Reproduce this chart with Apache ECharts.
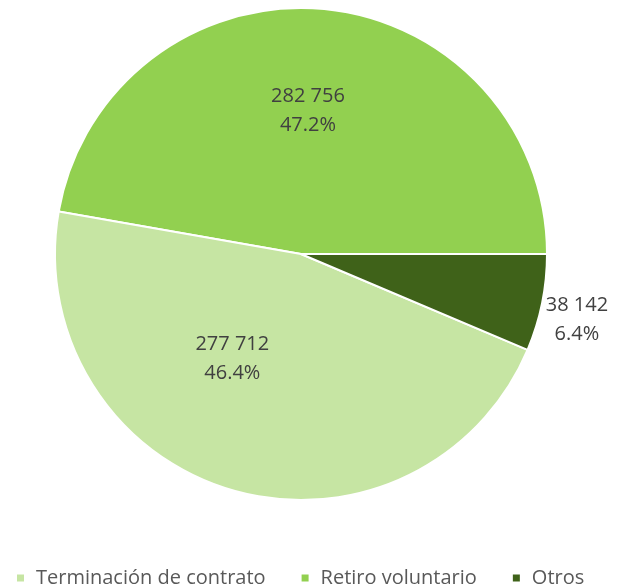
<!DOCTYPE html>
<html>
<head>
<meta charset="utf-8">
<script src="https://cdn.jsdelivr.net/npm/echarts@6/dist/echarts.min.js"></script>
<style>html,body{margin:0;padding:0;background:#fff;}#chart{width:628px;height:588px;}</style>
</head>
<body>
<div id="chart"></div>
<script>
// Data (order in pie, counter-clockwise from 3 o'clock)
const categories = ['Retiro voluntario', 'Terminación de contrato', 'Otros'];
const values = [282756, 277712, 38142];
const colors = ['#92d050', '#c6e5a3', '#3f6219'];
const legendOrder = ['Terminación de contrato', 'Retiro voluntario', 'Otros'];

const FONT = 'Open Sans';
function fmtNum(v) {
  return String(v).replace(/\B(?=(\d{3})+(?!\d))/g, ' ');
}
const total = values.reduce((a, b) => a + b, 0);

const chart = echarts.init(document.getElementById('chart'), null, {renderer: 'canvas'});
const labelShift = [[-4, -18], [-33, -16], [22, 15]];

chart.setOption({
  animation: false,
  color: colors,
  legend: {
    data: legendOrder,
    top: 563,
    left: 10,
    icon: 'rect',
    itemWidth: 9,
    itemHeight: 9,
    itemGap: 34,
    textStyle: {fontFamily: FONT, fontSize: 20, color: '#595959', padding: [0, 0, 0, 6]}
  },
  series: [{
    type: 'pie',
    center: [301, 254],
    radius: 246,
    startAngle: 0,
    clockwise: false,
    data: categories.map((c, i) => ({
      name: c,
      value: values[i],
      label: i === 2 ? {position: 'outside'} : {position: 'inside'}
    })),
    itemStyle: {borderColor: '#ffffff', borderWidth: 2},
    labelLine: {show: false, length: 8, length2: 0},
    label: {
      fontFamily: FONT,
      fontSize: 20,
      lineHeight: 29,
      color: '#404040',
      align: 'center',
      overflow: 'none',
      formatter: p => fmtNum(p.value) + '\n' + (p.value / total * 100).toFixed(1) + '%'
    },
    labelLayout: p => ({
      dx: labelShift[p.dataIndex][0],
      dy: labelShift[p.dataIndex][1],
      align: 'center'
    })
  }]
});
</script>
</body>
</html>
